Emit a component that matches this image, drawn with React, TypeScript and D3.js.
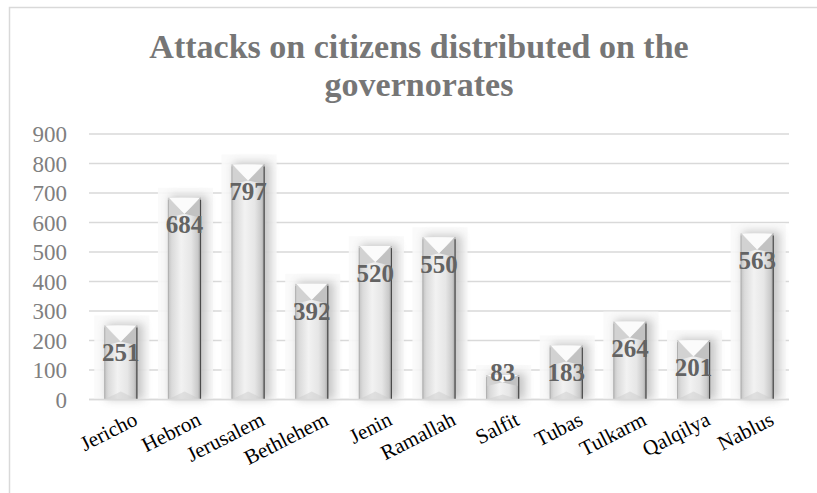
import React from "react";
import * as d3 from "d3";

const categories = ["Jericho","Hebron","Jerusalem","Bethlehem","Jenin","Ramallah","Salfit","Tubas","Tulkarm","Qalqilya","Nablus"];
const values = [251,684,797,392,520,550,83,183,264,201,563];
const yTicks = [0,100,200,300,400,500,600,700,800,900];
const titleLines = ["Attacks on citizens distributed on the","governorates"];

const W = 817, H = 493;
const M = { left: 89, right: 28, top: 134, bottom: 93.5 };

export default function App() {
  const x = d3.scaleBand<string>().domain(categories).range([M.left, W - M.right]).paddingInner(0.48).paddingOuter(0.24);
  const y = d3.scaleLinear().domain([0, 900]).range([H - M.bottom, M.top]);
  const bw = x.bandwidth();
  const serif = "'Liberation Serif', 'DejaVu Serif', serif";
  return (
    <div style={{ position: "absolute", left: 0, top: 0 }}>
      <svg width={W} height={H} style={{ display: "block", background: "#fff" }}>
        <defs>
          <linearGradient id="body" x1="0" x2="1" y1="0" y2="0">
            <stop offset="0" stopColor="#c2c2c2" />
            <stop offset="0.12" stopColor="#dadada" />
            <stop offset="0.4" stopColor="#f2f2f2" />
            <stop offset="0.7" stopColor="#e6e6e6" />
            <stop offset="0.9" stopColor="#cacaca" />
            <stop offset="1" stopColor="#a0a0a0" />
          </linearGradient>
          <filter id="blur" x="-50%" y="-50%" width="200%" height="200%">
            <feGaussianBlur stdDeviation="4" />
          </filter>
        </defs>
        <rect x={9.5} y={7.5} width={900} height={700} fill="none" stroke="#d9d9d9" strokeWidth={1.5} />
        {titleLines.map((t, i) => (
          <text key={t} x={419} y={58 + i * 38} textAnchor="middle" fontFamily={serif} fontWeight="bold" fontSize={34} fill="#767676">{t}</text>
        ))}
        {yTicks.map((t) => (
          <g key={t}>
            <line x1={M.left} x2={W - M.right} y1={y(t)} y2={y(t)} stroke="#d9d9d9" strokeWidth={1.5} />
            <text x={67} y={y(t)} dy="0.35em" textAnchor="end" fontFamily={serif} fontSize={23} fill="#7f7f7f">{t}</text>
          </g>
        ))}
        {categories.map((c, i) => {
          const bx = x(c)!;
          const top = y(values[i]);
          const bot = y(0);
          const h = bot - top;
          const vd = Math.min(16, h * 0.3);
          return (
            <g key={c}>
              <rect x={bx - 10} y={top - 10} width={bw + 22} height={h + 10} fill="#fafafa" opacity={0.9} />
              <rect x={bx + 2} y={top - 2} width={bw + 4} height={h + 2} fill="#8a8a8a" opacity={0.45} filter="url(#blur)" />
              <rect x={bx} y={top} width={bw} height={h} fill="url(#body)" />
              <polygon points={`${bx},${top} ${bx + bw / 2},${top + vd} ${bx},${top + vd + 4}`} fill="#d2d2d2" />
              <polygon points={`${bx + bw},${top} ${bx + bw / 2},${top + vd} ${bx + bw},${top + vd + 4}`} fill="#c2c2c2" />
              <polygon points={`${bx + 1},${top} ${bx + bw - 1},${top} ${bx + bw / 2},${top + vd}`} fill="#fbfbfb" />
              <polygon points={`${bx},${bot} ${bx + bw / 2},${bot - Math.min(8, h * 0.2)} ${bx + bw},${bot}`} fill="#c9c9c9" opacity={0.45} />
              <line x1={bx + bw - 0.5} x2={bx + bw - 0.5} y1={top + 2} y2={bot} stroke="#4a4a4a" strokeWidth={1.2} />
              <line x1={bx + 0.5} x2={bx + 0.5} y1={top + 2} y2={bot} stroke="#b0b0b0" strokeWidth={1} />
            </g>
          );
        })}
        <line x1={M.left} x2={W - M.right} y1={y(0)} y2={y(0)} stroke="#d9d9d9" strokeWidth={1.5} />
        {categories.map((c, i) => {
          const cx = x(c)! + bw / 2;
          const ly = Math.min(y(values[i]) + 27, y(0) - 27);
          return (
            <text key={c} x={cx} y={ly} dy="0.35em" textAnchor="middle" fontFamily={serif} fontWeight="bold" fontSize={25} fill="#636363">{values[i]}</text>
          );
        })}
        {categories.map((c) => {
          const ax = x(c)! + bw / 2 + 18;
          const ay = 424;
          return (
            <text key={c} x={ax} y={ay} textAnchor="end" transform={`rotate(-27 ${ax} ${ay})`} fontFamily={serif} fontSize={21} fill="#000">{c}</text>
          );
        })}
      </svg>
    </div>
  );
}
